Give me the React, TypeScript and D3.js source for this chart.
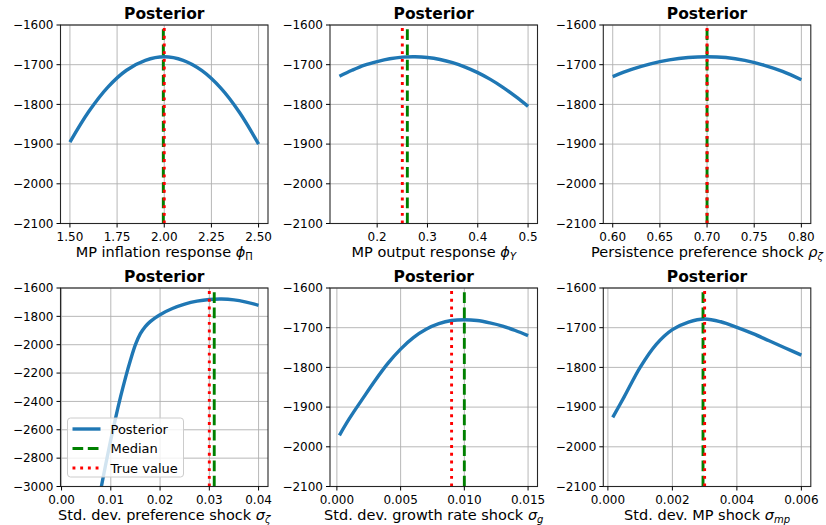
import React, { useRef, useEffect } from 'react';
import * as d3 from 'd3';

// log posterior slices
const phiPiGrid = [1.5, 1.6, 1.7, 1.8, 1.9, 2.0, 2.1, 2.2, 2.3, 2.4, 2.5];
const phiPiLogPost = [-1895, -1818, -1757, -1714, -1689, -1680, -1689, -1715, -1759, -1821, -1900];

const phiYGrid = [0.125, 0.15, 0.175, 0.2, 0.225, 0.25, 0.275, 0.3, 0.325, 0.35, 0.375, 0.4, 0.425, 0.45, 0.475, 0.5];
const phiYLogPost = [-1729, -1714, -1701, -1692, -1685, -1681, -1680, -1682, -1687, -1695, -1706, -1720, -1737, -1757, -1780, -1805];

const rhoZetaGrid = [0.6, 0.62, 0.64, 0.66, 0.68, 0.7, 0.72, 0.74, 0.76, 0.78, 0.8];
const rhoZetaLogPost = [-1730, -1712, -1698, -1688, -1682, -1680, -1682, -1689, -1701, -1717, -1738];

const sigmaZetaGrid = [0.0017, 0.003, 0.004, 0.005, 0.006, 0.007, 0.008, 0.009, 0.01, 0.011, 0.012, 0.013, 0.014, 0.015, 0.016, 0.017, 0.018, 0.019, 0.02, 0.0225, 0.025, 0.0275, 0.03, 0.0325, 0.035, 0.0375, 0.04];
const sigmaZetaLogPost = [-5200, -4400, -3950, -3650, -3400, -3200, -3015, -2838, -2670, -2512, -2365, -2230, -2108, -2000, -1922, -1872, -1837, -1810, -1788, -1745, -1714, -1693, -1681, -1678, -1684, -1700, -1722];

const sigmaGGrid = [0.0002, 0.001, 0.002, 0.003, 0.004, 0.005, 0.006, 0.007, 0.008, 0.009, 0.01, 0.011, 0.012, 0.013, 0.014, 0.015];
const sigmaGLogPost = [-1971, -1928, -1880, -1833, -1790, -1754, -1725, -1704, -1690, -1682, -1680, -1682, -1688, -1696, -1707, -1720];

const sigmaMpGrid = [0.00015, 0.0005, 0.001, 0.0015, 0.002, 0.0025, 0.003, 0.0035, 0.004, 0.0045, 0.005, 0.0055, 0.006];
const sigmaMpLogPost = [-1926, -1875, -1800, -1742, -1705, -1686, -1678, -1685, -1699, -1715, -1733, -1751, -1769];

const medians = [1.995, 0.26, 0.7, 0.031, 0.01, 0.00295];
const trueValues = [2.0, 0.25, 0.7, 0.03, 0.009, 0.003];

const yTicksNarrow = [-2100, -2000, -1900, -1800, -1700, -1600];
const yTicksWide = [-3000, -2800, -2600, -2400, -2200, -2000, -1800, -1600];

const xTicksList = [
  [1.5, 1.75, 2.0, 2.25, 2.5],
  [0.2, 0.3, 0.4, 0.5],
  [0.6, 0.65, 0.7, 0.75, 0.8],
  [0, 0.01, 0.02, 0.03, 0.04],
  [0, 0.005, 0.01, 0.015],
  [0, 0.002, 0.004, 0.006],
];
const xTickFormats = ['.2f', '.1f', '.2f', '.2f', '.3f', '.3f'];

// [plain text, greek symbol, subscript]
const xLabels = [
  ['MP inflation response ', 'ϕ', 'Π'],
  ['MP output response ', 'ϕ', 'Y'],
  ['Persistence preference shock ', 'ρ', 'ζ'],
  ['Std. dev. preference shock ', 'σ', 'ζ'],
  ['Std. dev. growth rate shock ', 'σ', 'g'],
  ['Std. dev. MP shock ', 'σ', 'mp'],
];

const legendLabels = ['Posterior', 'Median', 'True value'];

const panels = [
  { xs: phiPiGrid, ys: phiPiLogPost, yDomain: [-2100, -1600], yTicks: yTicksNarrow },
  { xs: phiYGrid, ys: phiYLogPost, yDomain: [-2100, -1600], yTicks: yTicksNarrow },
  { xs: rhoZetaGrid, ys: rhoZetaLogPost, yDomain: [-2100, -1600], yTicks: yTicksNarrow },
  { xs: sigmaZetaGrid, ys: sigmaZetaLogPost, yDomain: [-3000, -1600], yTicks: yTicksWide },
  { xs: sigmaGGrid, ys: sigmaGLogPost, yDomain: [-2100, -1600], yTicks: yTicksNarrow },
  { xs: sigmaMpGrid, ys: sigmaMpLogPost, yDomain: [-2100, -1600], yTicks: yTicksNarrow },
];

const WIDTH = 826;
const HEIGHT = 525;
const FONT = '"DejaVu Sans", sans-serif';
const BLUE = '#1f77b4';
const TICK_FONT = '12px';

export default function App() {
  const svgRef = useRef<SVGSVGElement>(null);

  useEffect(() => {
    const svg = d3.select(svgRef.current);
    svg.selectAll('*').remove();

    const colLeft = [60.5, 330, 603.3];
    const rowTop = [25, 288];
    const plotW = 207.5;
    const plotH = 198.5;

    panels.forEach((p, i) => {
      const col = i % 3;
      const row = Math.floor(i / 3);
      const left = colLeft[col];
      const top = rowTop[row];
      const bottom = top + plotH;

      // matplotlib style 5% x margin around the data
      const [x0, x1] = d3.extent(p.xs) as [number, number];
      const pad = 0.05 * (x1 - x0);
      const x = d3.scaleLinear().domain([x0 - pad, x1 + pad]).range([left, left + plotW]);
      const y = d3.scaleLinear().domain(p.yDomain).range([bottom, top]);

      const g = svg.append('g');

      g.append('clipPath')
        .attr('id', `clip${i}`)
        .append('rect')
        .attr('x', left)
        .attr('y', top)
        .attr('width', plotW)
        .attr('height', plotH);

      // grid
      const xTicks = xTicksList[i];
      g.selectAll('.gx')
        .data(xTicks)
        .enter()
        .append('line')
        .attr('x1', (d) => x(d))
        .attr('x2', (d) => x(d))
        .attr('y1', top)
        .attr('y2', bottom)
        .attr('stroke', '#b0b0b0')
        .attr('stroke-width', 0.9);
      g.selectAll('.gy')
        .data(p.yTicks)
        .enter()
        .append('line')
        .attr('x1', left)
        .attr('x2', left + plotW)
        .attr('y1', (d) => y(d))
        .attr('y2', (d) => y(d))
        .attr('stroke', '#b0b0b0')
        .attr('stroke-width', 0.9);

      const plot = g.append('g').attr('clip-path', `url(#clip${i})`);

      const line = d3
        .line<number>()
        .x((d, k) => x(p.xs[k]))
        .y((d) => y(d))
        .curve(d3.curveCatmullRom.alpha(0.5));

      plot
        .append('path')
        .datum(p.ys)
        .attr('fill', 'none')
        .attr('stroke', BLUE)
        .attr('stroke-width', 3.4)
        .attr('d', line);

      plot
        .append('line')
        .attr('x1', x(medians[i]))
        .attr('x2', x(medians[i]))
        .attr('y1', bottom)
        .attr('y2', top)
        .attr('stroke', 'green')
        .attr('stroke-width', 2.9)
        .attr('stroke-dasharray', '10.7 4.6');

      plot
        .append('line')
        .attr('x1', x(trueValues[i]))
        .attr('x2', x(trueValues[i]))
        .attr('y1', bottom)
        .attr('y2', top)
        .attr('stroke', 'red')
        .attr('stroke-width', 2.9)
        .attr('stroke-dasharray', '2.9 4.8');

      // spines
      g.append('rect')
        .attr('x', left)
        .attr('y', top)
        .attr('width', plotW)
        .attr('height', plotH)
        .attr('fill', 'none')
        .attr('stroke', '#262626')
        .attr('stroke-width', 1.1);

      // x ticks
      const fmtX = d3.format(xTickFormats[i]);
      xTicks.forEach((t) => {
        g.append('line')
          .attr('x1', x(t))
          .attr('x2', x(t))
          .attr('y1', bottom)
          .attr('y2', bottom + 4)
          .attr('stroke', '#000')
          .attr('stroke-width', 1);
        g.append('text')
          .attr('x', x(t))
          .attr('y', bottom + 17)
          .attr('text-anchor', 'middle')
          .attr('font-family', FONT)
          .attr('font-size', TICK_FONT)
          .attr('fill', '#000')
          .text(fmtX(t));
      });

      // y ticks
      const fmtY = d3.format('d');
      p.yTicks.forEach((t) => {
        g.append('line')
          .attr('x1', left - 4)
          .attr('x2', left)
          .attr('y1', y(t))
          .attr('y2', y(t))
          .attr('stroke', '#000')
          .attr('stroke-width', 1);
        g.append('text')
          .attr('x', left - 7)
          .attr('y', y(t))
          .attr('dy', '0.36em')
          .attr('text-anchor', 'end')
          .attr('font-family', FONT)
          .attr('font-size', TICK_FONT)
          .attr('fill', '#000')
          .text(fmtY(t));
      });

      // title
      g.append('text')
        .attr('x', left + plotW / 2)
        .attr('y', top - 6)
        .attr('text-anchor', 'middle')
        .attr('font-family', FONT)
        .attr('font-size', '15.5px')
        .attr('font-weight', 'bold')
        .attr('fill', '#000')
        .text('Posterior');

      // x label with math symbol
      const [plain, sym, sub] = xLabels[i];
      const lab = g
        .append('text')
        .attr('x', left + plotW / 2)
        .attr('y', bottom + 33)
        .attr('text-anchor', 'middle')
        .attr('font-family', FONT)
        .attr('font-size', '14.5px')
        .attr('fill', '#000');
      lab.append('tspan').text(plain);
      lab.append('tspan').attr('font-style', 'italic').text(sym);
      lab
        .append('tspan')
        .attr('font-style', sub === 'Π' ? 'normal' : 'italic')
        .attr('font-size', '10px')
        .attr('dy', 3)
        .text(sub);

      // legend on the lower left panel
      if (i === 3) {
        const lx = left + 7;
        const ly = bottom - 68.5;
        const lg = g.append('g');
        lg.append('rect')
          .attr('x', lx)
          .attr('y', ly)
          .attr('width', 116)
          .attr('height', 59)
          .attr('rx', 3)
          .attr('fill', '#fff')
          .attr('fill-opacity', 0.8)
          .attr('stroke', '#cccccc')
          .attr('stroke-width', 1);
        const styles = [
          { stroke: BLUE, width: 3.4, dash: null },
          { stroke: 'green', width: 2.9, dash: '10.7 4.6' },
          { stroke: 'red', width: 2.9, dash: '2.9 4.8' },
        ];
        legendLabels.forEach((name, k) => {
          const cy = ly + 11 + k * 19.5;
          const h = lg
            .append('line')
            .attr('x1', lx + 5)
            .attr('x2', lx + 33)
            .attr('y1', cy)
            .attr('y2', cy)
            .attr('stroke', styles[k].stroke)
            .attr('stroke-width', styles[k].width);
          if (styles[k].dash) h.attr('stroke-dasharray', styles[k].dash);
          lg.append('text')
            .attr('x', lx + 43)
            .attr('y', cy)
            .attr('dy', '0.36em')
            .attr('font-family', FONT)
            .attr('font-size', '13px')
            .attr('fill', '#000')
            .text(name);
        });
      }
    });
  }, []);

  return (
    <svg
      ref={svgRef}
      width={WIDTH}
      height={HEIGHT}
      style={{ position: 'absolute', left: 0, top: 0, background: '#fff' }}
      xmlns="http://www.w3.org/2000/svg"
    />
  );
}
